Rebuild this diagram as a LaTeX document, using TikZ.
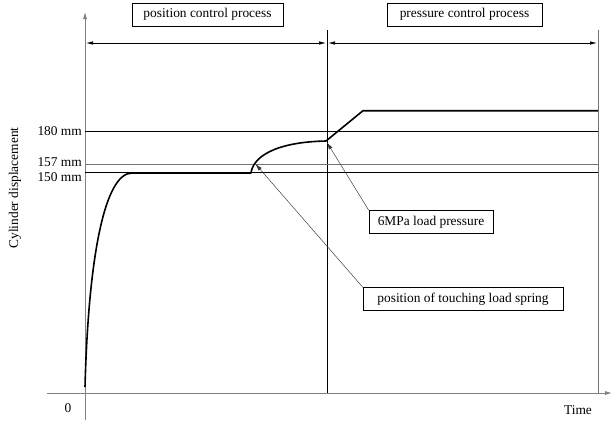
\documentclass[tikz,border=0pt]{standalone}
\usepackage{fontspec}
\setmainfont{Liberation Serif}
\usetikzlibrary{arrows.meta}
\begin{document}
\begin{tikzpicture}[x=1pt,y=-1pt,
  font=\fontsize{13.4}{15}\selectfont,
  axis/.style={draw=black!50,line width=0.8pt},
  thinline/.style={draw=black,line width=0.7pt},
  greyline/.style={draw=black!55,line width=0.8pt},
  curve/.style={draw=black,line width=1.6pt},
  leader/.style={draw=black!80,line width=0.45pt,-{Latex[length=7pt,width=4pt]}},
  tip/.style={-{Latex[length=7pt,width=4pt]}},
  dimarrow/.style={draw=black,line width=0.7pt,{Latex[length=7pt,width=3.5pt]}-{Latex[length=7pt,width=3.5pt]}},
  labelbox/.style={draw=black,line width=0.6pt,inner sep=0pt,minimum height=23pt},
  plain/.style={inner sep=0pt}]
\useasboundingbox (0,0) rectangle (612,423);
% axes
\coordinate (yb) at (85,420);
\coordinate (yt) at (85,12);
\coordinate (xl) at (47,393);
\coordinate (xr) at (612,393);
\draw[axis,tip] (yb) -- (yt);
\draw[axis,tip] (xl) -- (xr);
% vertical phase lines
\coordinate (mt) at (327,30);
\coordinate (mb) at (327,393);
\coordinate (rt) at (598,30);
\coordinate (rb) at (598,393);
\draw[thinline] (mt) -- (mb);
\draw[greyline] (rt) -- (rb);
% dimension arrows
\coordinate (d1) at (86,43);
\coordinate (d2) at (326,43);
\coordinate (d3) at (328,43);
\coordinate (d4) at (597,43);
\draw[dimarrow] (d1) -- (d2);
\draw[dimarrow] (d3) -- (d4);
% phase boxes
\node[labelbox,minimum width=151pt] (pcp) at (207.5,14.5) {position control process};
\node[labelbox,minimum width=155pt] (prcp) at (464.5,14.5) {pressure control process};
% horizontal reference lines
\coordinate (h180a) at (85,131.7);
\coordinate (h180b) at (598,131.7);
\coordinate (h157a) at (85,164);
\coordinate (h157b) at (598,164);
\coordinate (h150a) at (85,172.7);
\coordinate (h150b) at (598,172.7);
\draw[thinline] (h180a) -- (h180b);
\draw[greyline] (h157a) -- (h157b);
\draw[thinline] (h150a) -- (h150b);
\node[plain,anchor=east] (l180) at (82,131) {180 mm};
\node[plain,anchor=east] (l157) at (82,162) {157 mm};
\node[plain,anchor=east] (l150) at (82,177) {150 mm};
% displacement curve
\coordinate (c0) at (85,387);
\coordinate (c1) at (132,173);
\coordinate (c2) at (251,173);
\coordinate (c3) at (326,141);
\coordinate (c4) at (363,110.7);
\coordinate (c5) at (598,110.7);
\draw[curve,line join=round] (c0) .. controls (88.5,255) and (105,173) .. (c1)
  -- (c2) .. controls (253,157) and (275,142) .. (c3) -- (c4) -- (c5);
% callouts
\node[labelbox,minimum width=124pt] (mpa) at (431,222) {6MPa load pressure};
\node[labelbox,minimum width=200pt] (spring) at (463,299) {position of touching load spring};
\coordinate (tipP) at (327,142.5);
\coordinate (tipS) at (255.5,164);
\draw[leader] (mpa.north west) -- (tipP);
\draw[leader] (spring.north west) -- (tipS);
% axis labels
\node[plain] (zero) at (68,408) {0};
\node[plain] (time) at (578,410) {Time};
\node[plain,rotate=90] (ylab) at (15,188) {Cylinder displacement};
\end{tikzpicture}
\end{document}
